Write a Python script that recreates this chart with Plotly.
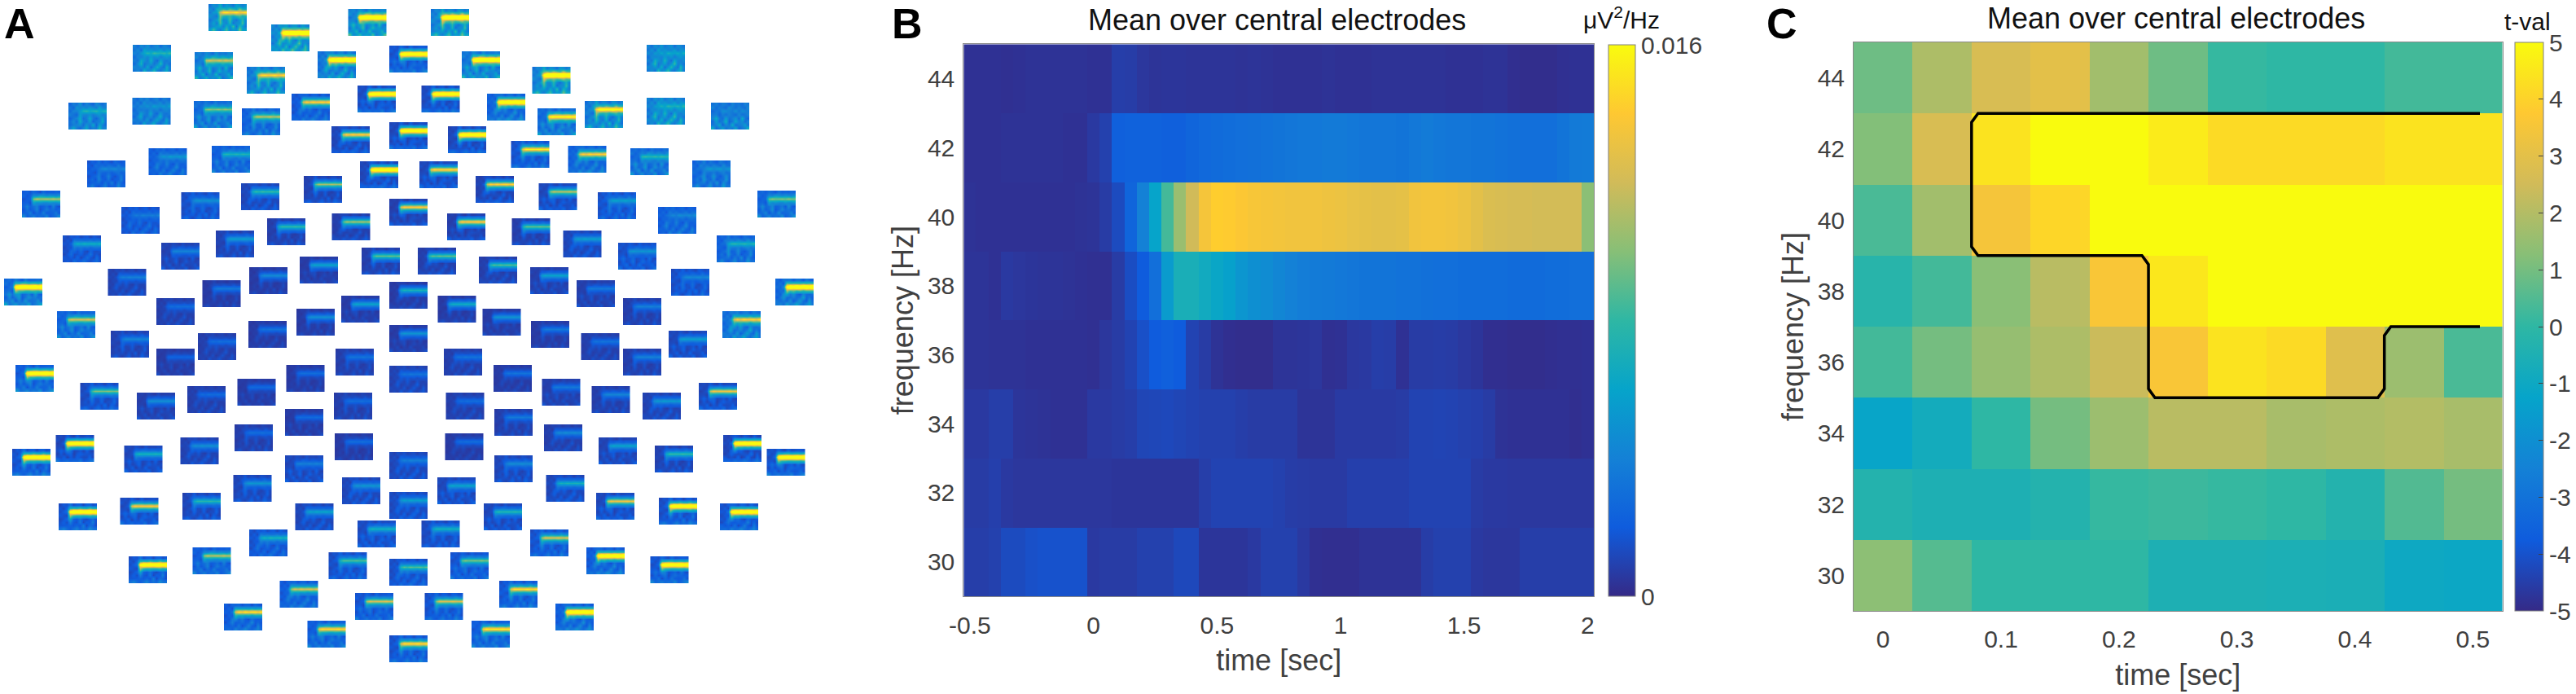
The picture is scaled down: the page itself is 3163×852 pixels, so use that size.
import plotly.graph_objects as go

W = 3163
H = 852

parula = [[0, '#352A87'], [0.125, '#0F5CDD'], [0.25, '#1481D6'], [0.375, '#06A4CA'], [0.5, '#2EB7A4'],
          [0.625, '#87BF77'], [0.75, '#D1BB59'], [0.875, '#FEC832'], [1, '#F9FB0E']]

freqs = [30, 32, 34, 36, 38, 40, 42, 44]

# panel B, power in 1e-3 uV^2/Hz, one list per frequency, -0.5 to 2 s in 0.05 s steps
b_start = -0.5
b_step = 0.05
b_30 = [.8, .8, .9, 1.3, 1.3, 1.5, 1.6, 1.6, 1.6, 1.6, .6, .7, .7, .7, .9, .9, .9, 1.2, 1.2, .45, .45, .45, .45, .6, .9,
        .9, .9, .6, .25, .2, .2, .2, .35, .35, .35, .35, .35, .75, .9, .9, .9, .6, .5, .5, .5, .8, .8, .8, .8, .8, .8]
b_32 = [.7, .7, .85, .6, .5, .5, .5, .5, .5, .5, .5, .5, .45, .45, .45, .45, .45, .45, .45, .8, 1.0, 1.0, 1.0, 1.0, 1.0,
        .9, .75, .7, .65, .65, .65, .85, .85, .85, .85, .85, 1.0, 1.0, 1.0, 1.0, 1.0, .7, .6, .6, .55, .55, .55, .55, .55, .55, .55]
b_34 = [.6, .6, .8, .8, .45, .4, .35, .3, .3, .3, .6, .6, .7, .8, 1.1, 1.15, 1.2, 1.1, 1.0, .9, .9, .9, .8, .7, .7,
        .7, .7, .4, .4, .4, .65, .65, .65, .65, .65, .7, 1.0, 1.0, 1.05, 1.0, .9, .85, .7, .35, .3, .3, .3, .3, .3, .2, .3]
b_36 = [.4, .4, .35, .35, .35, .3, .3, .3, .3, .3, .25, .5, .7, 1.0, 1.5, 2.0, 2.2, 2.0, 1.0, .7, .35, .2, .15, .15, .15,
        .4, .4, .45, .5, .25, .3, .55, .6, .8, .75, .3, .7, .7, .75, .7, .55, .45, .2, .2, .15, .15, .15, .2, .25, .25, .3]
b_38 = [.4, .4, .3, .6, .5, .45, .4, .4, .35, .3, .25, .25, .7, 1.4, 2.0, 3.0, 5.5, 7.0, 7.0, 6.6, 6.2, 5.8, 5.2, 4.8, 4.6,
        4.3, 4.0, 3.8, 3.7, 3.6, 3.5, 3.4, 3.3, 3.3, 3.3, 3.2, 3.2, 3.1, 3.0, 3.0, 2.9, 2.9, 2.9, 2.9, 2.8, 2.8, 2.8, 2.9, 2.9, 3.0, 3.0]
b_40 = [.35, .3, .3, .3, .3, .3, .3, .3, .3, .35, .4, .7, 1.3, 2.5, 4.0, 6.0, 8.5, 10.5, 12.0, 13.6, 14.2, 14.1, 13.9, 13.7, 13.6,
        13.5, 13.4, 13.4, 13.4, 13.3, 13.2, 13.0, 12.9, 12.8, 12.8, 12.9, 13.4, 13.5, 13.5, 13.4, 13.2, 12.8, 12.4, 12.3, 12.2, 12.2, 12.1, 12.1, 12.1, 12.1, 10.1]
b_42 = [.3, .3, .3, .35, .35, .35, .35, .35, .3, .3, .6, .9, 2.2, 2.3, 2.3, 2.3, 2.2, 2.2, 2.5, 2.7, 2.8, 2.9, 3.0, 3.1, 3.2,
        3.3, 3.4, 3.5, 3.5, 3.6, 3.6, 3.5, 3.4, 3.4, 3.4, 3.3, 3.5, 3.7, 3.5, 3.4, 3.4, 3.3, 3.3, 3.2, 3.1, 3.0, 3.0, 3.0, 3.3, 3.6, 3.7]
b_44 = [.3, .3, .3, .25, .3, .35, .35, .35, .35, .35, .3, .3, .8, .75, .5, .4, .45, .45, .4, .4, .4, .4, .35, .4, .35,
        .3, .3, .3, .3, .35, .3, .3, .3, .35, .35, .35, .35, .35, .35, .3, .3, .3, .35, .35, .2, .15, .15, .15, .25, .3, .3]

# panel C, t values, 0 to 0.5 s
c_times = [0, 0.05, 0.1, 0.15, 0.2, 0.25, 0.3, 0.35, 0.4, 0.45, 0.5]
c_30 = [1.35, .55, 0, 0, 0, -.5, -.5, -.55, -.6, -1.0, -1.05]
c_32 = [-.3, -.5, -.5, -.3, .1, .2, .1, 0, -.3, .5, 1.0]
c_34 = [-1.2, -.8, 0, 1.0, 1.6, 2.1, 2.1, 1.8, 1.9, 2.0, 1.8]
c_36 = [.3, 1.0, 1.5, 1.9, 2.4, 3.6, 4.4, 4.2, 2.9, 1.6, .4]
c_38 = [-.2, .3, 1.3, 2.1, 3.6, 4.5, 5, 5, 5, 5, 5]
c_40 = [.4, 1.7, 3.5, 4.1, 5, 5, 5, 5, 5, 5, 5]
c_42 = [1.2, 2.7, 4.4, 5, 5, 4.6, 4.2, 4.2, 4.2, 4.4, 4.4]
c_44 = [.9, 1.9, 2.7, 3.0, 1.7, .9, .1, 0, 0, .3, .3]

# significant cluster outline
contour_time = [.506, .0805, .075, .075, .0805, .2195, .225, .225, .2305, .4195, .425, .425, .4305, .506]
contour_freq = [43, 43, 42.75, 39.25, 39, 39, 38.75, 35.25, 35, 35, 35.25, 36.75, 37, 37]

# panel A, electrode tiles: position on the page and colour level of the 40 Hz line and of the background
tile_left = [256, 333, 427.5, 529, 163, 239, 303, 390, 478, 84,
             162.5, 238, 297, 358, 439, 517.5, 407, 478, 550, 182.5,
             260, 107, 442, 515, 373, 296, 27, 222.5, 149, 478,
             328, 407.5, 549, 265, 77, 198, 444, 513, 368, 306,
             132.5, 5, 248.5, 478, 419, 537.5, 192, 70, 364, 305,
             478, 136, 243,
             192, 412, 545, 19, 351.5, 478, 291.5, 98.5, 230, 168,
             410, 547.5, 350, 288, 221.5, 68.5, 411, 546.5, 152.5, 15,
             478, 350, 286.5, 420, 537, 224, 478, 147.5, 72, 362.5,
             439, 517.5, 306, 236.5, 403.5, 478, 553, 158, 343.5, 436,
             521.5, 275, 377.5, 478,
             794, 567, 653.5, 598, 660, 718, 794, 873, 627.5, 697.5,
             774, 850, 584, 661.5, 734, 808, 930, 628.5, 691.5, 759,
             880, 588, 651, 824, 952, 708, 765, 887, 592.5, 652,
             713.5, 821,
             765, 606, 665.5, 726.5, 789, 858, 607, 668, 735, 804,
             888, 941.5, 607, 670.5, 732, 809, 884, 594, 651, 720,
             798.5, 613, 682, 579]
tile_top = [5, 30, 11, 11, 55, 64, 82, 63, 56, 126,
            120, 124, 133, 115, 105, 105, 155, 150, 155, 182,
            179, 197, 198, 198, 216, 225, 234, 236, 254, 244,
            268, 262, 262, 283, 289, 298, 304, 304, 315, 328,
            330, 342, 344, 346, 363, 363, 366, 382, 379, 394,
            399, 406, 409,
            428, 428, 428, 448, 448, 449, 465, 470, 474, 482,
            482, 482, 502, 521, 537, 534, 532, 532, 547, 551,
            555, 559, 583, 586, 586, 605, 604, 611, 618, 618,
            639, 639, 650, 672, 678, 686, 678, 683, 713, 728,
            728, 741, 762, 780,
            55, 63, 82, 115, 133, 124, 120, 126, 173, 179,
            182, 197, 216, 225, 236, 254, 234, 268, 283, 298,
            289, 315, 328, 330, 342, 344, 366, 382, 379, 394,
            409, 406,
            428, 448, 465, 474, 482, 470, 502, 521, 537, 547,
            534, 551, 559, 583, 605, 611, 618, 618, 650, 672,
            683, 713, 741, 762]
tile_peak = [.9, 1.4, 1.4, 1.4, .45, .75, .9, 1.4, 1.4, .42,
             .3, .62, .7, .9, 1.4, 1.4, .9, 1.4, 1.4, .32,
             .45, .25, 1.4, .95, .68, .5, .7, .3, .22, .9,
             .5, .68, .9, .35, .42, .26, .58, .58, .38, .28,
             .24, 1.4, .22, .45, .38, .42, .18, .78, .3, .2,
             .32, .26, .18,
             .15, .2, .2, 1.4, .18, .2, .17, .62, .17, .3,
             .18, .18, .17, .18, .3, 1.4, .18, .18, .45, 1.4,
             .24, .24, .32, .32, .38, .48, .36, .9, 1.4, .38,
             .44, .44, .44, .72, .55, .55, .62, 1.4, .78, .78,
             .78, .95, .95, .95,
             .36, 1.4, 1.4, 1.4, 1.1, 1.1, .42, .25, 1.0, .9,
             .48, .3, .9, .72, .36, .26, .62, .58, .36, .32,
             .45, .55, .38, .26, 1.4, .22, .24, .9, .32, .22,
             .2, .36,
             .25, .2, .22, .26, .34, .85, .22, .28, .38, .5,
             1.4, 1.4, .28, .44, .85, 1.4, 1.4, .48, .78, 1.4,
             1.4, .95, 1.4, 1.0]
tile_base = [.26, .26, .24, .24, .22, .22, .22, .2, .1, .2,
             .2, .17, .14, .11, .08, .08, .07, .07, .07, .13,
             .13, .12, .07, .07, .06, .07, .12, .09, .1, .05,
             .05, .05, .05, .06, .09, .06, .05, .05, .04, .04,
             .06, .16, .04, .04, .04, .04, .05, .14, .04, .04,
             .04, .06, .05,
             .04, .05, .05, .12, .04, .06, .04, .08, .05, .05,
             .05, .05, .04, .05, .06, .07, .04, .04, .07, .1,
             .07, .07, .07, .07, .07, .07, .08, .08, .1, .07,
             .08, .08, .1, .12, .09, .09, .1, .1, .12, .1,
             .1, .12, .12, .1,
             .24, .2, .24, .14, .16, .22, .24, .2, .1, .14,
             .16, .16, .06, .07, .1, .13, .14, .05, .07, .09,
             .14, .05, .05, .09, .16, .05, .05, .18, .04, .04,
             .05, .07,
             .05, .04, .05, .05, .06, .07, .05, .05, .06, .06,
             .07, .09, .07, .07, .07, .09, .1, .07, .1, .12,
             .1, .11, .13, .12]

# how much of the line level each cell of a tile reaches, top row is 44 Hz
tile_weight = [[0, 0, 0, .04, 0, 0, .03, 0, 0, .03, 0, 0],
               [0, 0, 0, .28, .3, .3, .32, .3, .3, .32, .3, .3],
               [0, 0, .05, .8, 1, .95, 1, .95, 1, 1, .95, 1],
               [0, 0, 0, .42, .32, .3, .28, .3, .28, .3, .28, .3],
               [0, 0, .02, .15, .05, 0, 0, 0, 0, 0, 0, 0],
               [0, 0, 0, .03, 0, 0, .03, 0, .02, 0, .03, 0],
               [.02, 0, 0, 0, .02, 0, 0, .03, 0, 0, .02, 0],
               [.06, .05, .05, .04, .05, .05, .05, .06, .04, .05, .07, .05]]
# background speckle of the tiles
tile_speckle = [
    [[-.2, .2, 0, .5, -.1, .3, 0, -.2, .4, .1, -.1, .2],
     [.1, -.2, .6, 0, .2, -.1, .3, .1, -.2, .5, 0, -.1],
     [-.1, .3, .2, -.2, .1, .4, -.1, .2, .3, -.2, .1, .2],
     [.2, 0, -.2, .3, 0, -.1, .2, -.2, .1, .3, -.1, 0],
     [-.2, .1, .3, .8, -.1, .2, 1.0, .1, -.2, .3, .9, .1],
     [0, .4, -.1, 1.0, .2, 0, .7, -.2, .1, .2, 1.1, 0],
     [-.1, .2, .3, .5, -.1, .6, .1, .9, -.2, .8, .3, -.1],
     [.2, .9, .1, -.2, .3, .9, -.1, .2, .1, 1.2, .2, .3]],
    [[.1, -.2, .3, 0, .4, -.1, .1, .3, -.2, .2, .1, -.1],
     [-.1, .3, -.2, .4, 0, .2, -.1, 0, .3, -.2, .2, .1],
     [.2, 0, .4, -.1, .1, -.2, .3, .1, 0, .2, -.1, .3],
     [-.2, .2, .1, 0, -.1, .3, 0, .2, -.2, .1, .3, 0],
     [.1, -.1, .8, .2, 0, .9, .1, -.2, .7, .1, 0, .2],
     [-.2, .3, 1.0, -.1, .2, .5, -.1, .3, 1.1, 0, .2, -.1],
     [.2, .1, .4, 0, .7, -.2, .3, .9, .2, -.1, 1.0, .1],
     [-.1, .2, -.2, .9, .1, .3, 1.0, .1, -.1, .4, .8, 0]],
    [[0, .2, -.1, .2, .1, -.2, .3, 0, .1, -.1, .3, .1],
     [.3, -.1, .2, 0, -.2, .4, .1, -.1, .2, 0, -.2, .3],
     [-.2, .1, 0, .3, .2, 0, -.1, .3, -.2, .2, .1, -.1],
     [.1, .2, -.2, .1, -.1, .2, 0, -.2, .3, -.1, 0, .2],
     [.3, 1.0, .1, -.1, .8, 0, .2, .6, -.1, 1.0, .1, -.2],
     [-.1, .7, 0, .2, 1.1, -.2, .1, .9, .2, .5, -.1, .3],
     [.1, .3, .9, -.2, .4, .1, 1.0, -.1, .2, .3, .8, 0],
     [1.0, -.1, .2, .8, 0, .3, .1, .9, -.2, .1, .3, 1.1]]]
tile_width = 47.4
tile_height = 33

label_color = '#404040'
label_font = 'Liberation Sans'


def paper_x(px):
    return px / W


def paper_y(px):
    return 1 - px / H


def tile_cells(peak, base, speckle):
    rows = []
    for weights, noise in zip(tile_weight, speckle):
        rows.append([base * (1 + n) + (peak - base) * w for w, n in zip(weights, noise)])
    return rows


fig = go.Figure()

for i, (left, top, peak, base) in enumerate(zip(tile_left, tile_top, tile_peak, tile_base)):
    fig.add_trace(go.Heatmap(z=tile_cells(peak, base, tile_speckle[i % 3]),
                             x0=left + tile_width / 24, dx=tile_width / 12,
                             y0=top + tile_height / 16, dy=tile_height / 8,
                             zmin=0, zmax=1, colorscale=parula, showscale=False, hoverinfo='skip',
                             zsmooth='best', xaxis='x3', yaxis='y3'))

fig.add_trace(go.Heatmap(z=[b_30, b_32, b_34, b_36, b_38, b_40, b_42, b_44], x0=b_start, dx=b_step, y=freqs,
                         zmin=0, zmax=16, colorscale=parula, xaxis='x', yaxis='y',
                         colorbar=dict(x=paper_x(1975), xanchor='left', y=paper_y(732), yanchor='bottom',
                                       len=(732 - 55) / H, thickness=33, xpad=0, ypad=0,
                                       outlinecolor='#808080', outlinewidth=1,
                                       tickmode='array', tickvals=[0, 16], ticktext=['0', '0.016'],
                                       ticks='', tickfont=dict(size=30, color=label_color))))

fig.add_trace(go.Heatmap(z=[c_30, c_32, c_34, c_36, c_38, c_40, c_42, c_44], x=c_times, y=freqs,
                         zmin=-5, zmax=5, colorscale=parula, xaxis='x2', yaxis='y2',
                         colorbar=dict(x=paper_x(3088), xanchor='left', y=paper_y(750), yanchor='bottom',
                                       len=(750 - 52) / H, thickness=35, xpad=0, ypad=0,
                                       outlinecolor='#808080', outlinewidth=1,
                                       tickmode='array', tickvals=[-5, -4, -3, -2, -1, 0, 1, 2, 3, 4, 5],
                                       ticktext=['-5', '-4', '-3', '-2', '-1', '0', '1', '2', '3', '4', '5'],
                                       ticks='inside', ticklen=6, tickcolor='#404040', tickwidth=1,
                                       tickfont=dict(size=30, color=label_color))))

fig.add_trace(go.Scatter(x=contour_time, y=contour_freq, mode='lines', line=dict(color='black', width=3.5),
                         showlegend=False, hoverinfo='skip', xaxis='x2', yaxis='y2'))

axis_style = dict(showgrid=False, zeroline=False, showline=True, linecolor='#8a8a8a', linewidth=1, mirror=True,
                  ticks='', tickfont=dict(size=30, color=label_color))
title_font = dict(size=36, color=label_color)

fig.update_layout(
    width=W, height=H, margin=dict(l=0, r=0, t=0, b=0, autoexpand=False), paper_bgcolor='white', plot_bgcolor='white',
    showlegend=False, font=dict(family=label_font),
    xaxis=dict(domain=[paper_x(1183.3), paper_x(1957)], range=[-0.525, 2.025], anchor='y',
               tickvals=[-0.5, 0, 0.5, 1, 1.5, 2], ticktext=['-0.5', '0', '0.5', '1', '1.5', '2'], ticklabelstandoff=9,
               title=dict(text='time [sec]', font=title_font, standoff=14), **axis_style),
    yaxis=dict(domain=[paper_y(732), paper_y(54.3)], range=[29, 45], anchor='x', ticklabelstandoff=4,
               tickvals=freqs, title=dict(text='frequency [Hz]', font=title_font, standoff=6), **axis_style),
    xaxis2=dict(domain=[paper_x(2276), paper_x(3072.5)], range=[-0.025, 0.525], anchor='y2',
                tickvals=c_times[::2], ticktext=['0', '0.1', '0.2', '0.3', '0.4', '0.5'], ticklabelstandoff=8,
                title=dict(text='time [sec]', font=title_font, standoff=15), **axis_style),
    yaxis2=dict(domain=[paper_y(750), paper_y(52)], range=[29, 45], anchor='x2', ticklabelstandoff=4,
                tickvals=freqs, title=dict(text='frequency [Hz]', font=title_font, standoff=6), **axis_style),
    xaxis3=dict(domain=[0, paper_x(1000)], range=[0, 1000], visible=False, anchor='y3'),
    yaxis3=dict(domain=[0, 1], range=[H, 0], visible=False, anchor='x3'),
)

page_notes = [
    dict(text='<b>A</b>', x=paper_x(5), y=paper_y(58), size=52, color='black', xanchor='left'),
    dict(text='<b>B</b>', x=paper_x(1095), y=paper_y(58), size=52, color='black', xanchor='left'),
    dict(text='<b>C</b>', x=paper_x(2169), y=paper_y(58), size=52, color='black', xanchor='left'),
    dict(text='Mean over central electrodes', x=paper_x(1568), y=paper_y(45), size=36, color='#111111', xanchor='center'),
    dict(text='Mean over central electrodes', x=paper_x(2672), y=paper_y(43), size=36, color='#111111', xanchor='center'),
    dict(text='\u03bcV<sup>2</sup>/Hz', x=paper_x(1991), y=paper_y(41), size=30, color='#111111', xanchor='center'),
    dict(text='t-val', x=paper_x(3103), y=paper_y(43), size=30, color='#111111', xanchor='center'),
]
for note in page_notes:
    fig.add_annotation(text=note['text'], x=note['x'], y=note['y'], xref='paper', yref='paper', showarrow=False,
                       xanchor=note['xanchor'], yanchor='bottom', font=dict(size=note['size'], color=note['color']),
                       borderpad=0, borderwidth=0)

fig.write_html("out.html", config=dict(displayModeBar=False), post_script="document.body.style.margin = '0';")
